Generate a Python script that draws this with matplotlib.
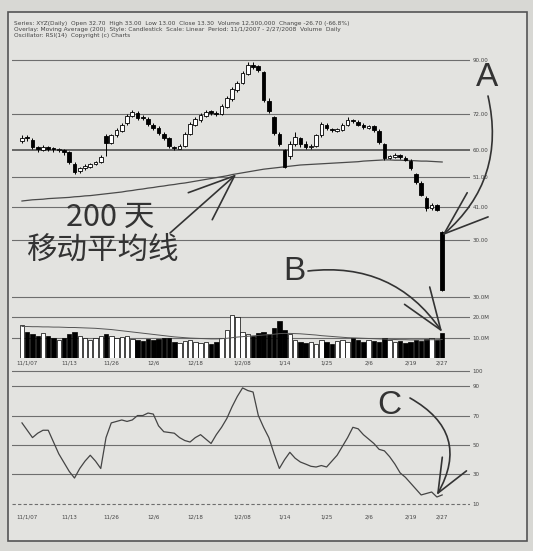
import matplotlib
matplotlib.use('Agg')
import matplotlib.pyplot as plt
from matplotlib.patches import Rectangle

plt.rcParams['font.family'] = ['DejaVu Sans']

# candlestick data (daily bars)
opens = [63.0, 64.5, 63.5, 61.0, 60.0, 61.0, 60.5, 60.0, 60.0, 59.5,
         55.5, 53.0, 54.0, 54.5, 55.3, 56.0, 64.7, 62.5, 65.0, 66.5,
         69.0, 71.5, 72.5, 71.0, 70.5, 68.5, 67.5, 65.5, 64.0, 61.0,
         60.5, 61.5, 65.5, 68.5, 70.0, 71.5, 73.0, 72.5, 72.0, 74.5,
         77.0, 80.0, 82.5, 85.5, 88.5, 88.0, 86.0, 76.5, 71.0, 65.5,
         60.0, 58.0, 62.0, 64.0, 62.0, 61.0, 61.5, 65.0, 68.5, 67.0,
         66.5, 66.7, 68.5, 70.0, 69.5, 68.5, 67.5, 68.0, 66.5, 62.0,
         57.5, 57.7, 58.3, 57.5, 56.5, 52.0, 49.0, 44.0, 40.5, 41.5,
         32.7]
closes = [64.0, 64.0, 61.0, 60.3, 61.0, 60.3, 60.3, 60.0, 59.3, 56.0,
          52.7, 54.0, 54.7, 55.3, 56.0, 57.7, 62.3, 65.0, 66.7, 68.3,
          71.3, 72.7, 70.7, 70.7, 68.7, 67.3, 65.7, 64.0, 61.3, 60.7,
          61.3, 65.3, 68.7, 70.3, 71.7, 72.7, 72.3, 72.0, 74.7, 77.3,
          80.3, 82.3, 85.7, 88.3, 87.7, 86.7, 76.7, 73.0, 65.7, 62.0,
          54.5, 62.0, 64.5, 62.0, 61.0, 61.5, 65.0, 68.7, 67.3, 66.7,
          66.7, 68.3, 70.0, 69.7, 68.3, 67.7, 67.7, 66.7, 62.7, 57.3,
          57.7, 58.3, 57.7, 56.7, 54.0, 49.3, 45.0, 40.7, 41.5, 40.0,
          13.3]
highs = [65.0, 65.0, 64.0, 61.5, 61.8, 61.5, 61.0, 60.8, 60.5, 59.8,
         56.0, 54.5, 55.2, 55.8, 56.5, 58.2, 65.2, 65.5, 67.2, 69.0,
         72.0, 73.5, 73.0, 71.8, 71.0, 69.0, 68.0, 66.0, 64.5, 61.5,
         62.0, 66.0, 69.2, 71.0, 72.5, 73.3, 73.5, 73.0, 75.3, 78.0,
         81.0, 83.0, 86.5, 89.5, 89.3, 88.5, 86.5, 77.5, 71.5, 66.0,
         60.5, 63.0, 66.0, 64.5, 63.0, 62.0, 65.5, 69.5, 69.0, 67.5,
         67.3, 69.0, 71.0, 70.5, 70.0, 69.0, 68.3, 68.5, 67.0, 62.5,
         58.5, 59.0, 58.8, 58.0, 57.0, 52.5, 49.5, 44.5, 42.3, 42.0,
         33.0]
lows = [62.5, 63.0, 60.5, 59.5, 59.8, 59.8, 59.5, 59.3, 58.5, 55.5,
        52.0, 52.5, 53.5, 54.0, 55.0, 55.8, 58.0, 62.0, 64.5, 66.0,
        68.5, 71.0, 70.0, 70.0, 68.0, 66.8, 65.0, 63.5, 60.8, 60.0,
        60.2, 61.0, 65.0, 68.0, 69.5, 71.0, 71.8, 71.2, 71.8, 74.0,
        76.5, 79.5, 82.0, 85.0, 87.0, 86.0, 76.0, 72.5, 65.0, 61.5,
        54.0, 57.0, 61.5, 61.0, 60.3, 60.5, 61.0, 64.5, 66.8, 66.0,
        66.0, 66.3, 68.0, 69.0, 68.0, 67.0, 67.0, 66.0, 62.0, 56.8,
        57.0, 57.3, 57.0, 56.2, 53.5, 48.8, 44.5, 39.5, 40.0, 39.5,
        13.0]

# 200 day moving average
ma200 = [43.0, 43.2, 43.4, 43.5, 43.6, 43.8, 43.9, 44.0, 44.1, 44.2,
         44.4, 44.5, 44.7, 44.8, 45.0, 45.2, 45.4, 45.6, 45.8, 46.0,
         46.3, 46.5, 46.8, 47.0, 47.3, 47.5, 47.8, 48.0, 48.3, 48.5,
         48.8, 49.0, 49.3, 49.6, 49.9, 50.2, 50.5, 50.8, 51.1, 51.4,
         51.8, 52.1, 52.4, 52.7, 53.0, 53.3, 53.6, 53.8, 54.0, 54.2,
         54.4, 54.6, 54.8, 55.0, 55.1, 55.2, 55.3, 55.4, 55.5, 55.6,
         55.7, 55.8, 55.9, 56.0, 56.1, 56.3, 56.4, 56.5, 56.6, 56.7,
         56.7, 56.6, 56.6, 56.5, 56.5, 56.4, 56.3, 56.3, 56.2, 56.1,
         56.0]

# volume (millions) and its moving average
volume = [16, 13, 12, 11, 12.5, 11, 10, 9, 10, 12,
          13, 11, 10, 9, 10, 11, 12, 11, 10, 10.5,
          11, 9.5, 9, 8.5, 9.5, 9, 9.5, 10, 10, 8,
          7.5, 8.5, 9, 8, 7.5, 8, 7, 8, 10, 14,
          21, 20, 13, 12, 11, 12.5, 13, 12, 15, 18,
          14, 12, 9, 8, 7.5, 8, 7, 9, 8, 7,
          8.5, 9, 8, 10, 9, 8, 9, 8.5, 8, 10,
          9, 8, 8.5, 7.5, 8, 9, 8.5, 9.5, 10, 9,
          12.5]
vol_ma = [15.5, 15.5, 15.4, 15.4, 15.3, 15.3, 15.2, 15.2, 15.1, 15.0,
          15.0, 14.9, 14.8, 14.7, 14.6, 14.4, 14.2, 14.0, 13.7, 13.4,
          13.1, 12.8, 12.5, 12.2, 11.9, 11.6, 11.3, 11.0, 10.7, 10.4,
          10.2, 10.0, 9.8, 9.7, 9.6, 9.5, 9.4, 9.4, 9.5, 9.7,
          10.0, 10.3, 10.5, 10.7, 10.9, 11.1, 11.3, 11.5, 11.7, 12.0,
          12.1, 12.1, 12.0, 11.9, 11.7, 11.5, 11.3, 11.0, 10.8, 10.6,
          10.4, 10.2, 10.0, 9.9, 9.8, 9.7, 9.6, 9.5, 9.4, 9.3,
          9.2, 9.1, 9.0, 9.0, 8.9, 8.9, 8.9, 8.9, 9.0, 9.0,
          9.1]

# oscillator
osc = [65, 60, 55, 58, 60, 60, 52, 44, 38, 32,
       27.5, 34, 39, 43, 39, 34, 55, 65, 66, 67,
       66, 67, 70, 70, 71.7, 71, 63, 59, 58.5, 58,
       55, 53, 52, 55, 57, 54, 51, 57, 62, 68,
       76, 83, 88.8, 87, 86, 70, 62, 55, 44, 34,
       40, 45, 41, 38.4, 37, 35.5, 35, 36, 35, 39,
       43, 49, 55, 62, 61, 57, 54, 51, 47, 46,
       42, 37, 31, 28, 24, 20, 16, 17, 18, 14.6,
       16]

date_idx = [1, 9, 17, 25, 33, 42, 50, 58, 66, 74, 80]
date_labels = ['11/1/07', '11/13', '11/26', '12/6', '12/18', '1/2/08',
               '1/14', '1/25', '2/6', '2/19', '2/27']

price_ticks = [30, 41, 51, 60, 72, 90]
price_labels = ['30.00', '41.00', '51.00', '60.00', '72.00', '90.00']
vol_ticks = [10, 20, 30]
vol_labels = ['10.0M', '20.0M', '30.0M']
osc_ticks = [10, 30, 50, 70, 90, 100]

W, H = 533, 551
ink = '#333333'
grid_c = '#6e6e6e'

fig = plt.figure(figsize=(W / 100, H / 100), dpi=100)
fig.patch.set_facecolor('#d8d8d4')
frame = Rectangle((8 / W, 1 - 541 / H), 519 / W, 529 / H,
                  transform=fig.transFigure, facecolor='#e3e3e0',
                  edgecolor='#555555', lw=1.2, zorder=-5)
fig.add_artist(frame)


def px_axes(x0, y0, x1, y1):
    a = fig.add_axes([x0 / W, 1 - y1 / H, (x1 - x0) / W, (y1 - y0) / H])
    a.set_facecolor('none')
    for s in a.spines.values():
        s.set_visible(False)
    a.set_xlim(-1.9, 85.3)
    a.yaxis.tick_right()
    a.tick_params(length=0, labelsize=4, colors='#444444', pad=2)
    return a


ax_p = px_axes(12, 55, 470, 296)
ax_v = px_axes(12, 296, 470, 358)
ax_o = px_axes(12, 366, 470, 512)

n = len(closes)
xs = list(range(n))

# price panel
ax_p.set_ylim(11.33, 91.67)
ax_p.set_yticks(price_ticks)
ax_p.set_yticklabels(price_labels)
ax_p.set_xticks([])
for t in price_ticks:
    ax_p.axhline(t, color='#444444' if t == 60 else grid_c,
                 lw=1.1 if t == 60 else 0.8, zorder=0)

up = [c >= o for o, c in zip(opens, closes)]
bottoms = [min(o, c) for o, c in zip(opens, closes)]
heights = [max(abs(c - o), 0.4) for o, c in zip(opens, closes)]
ax_p.vlines(xs, lows, highs, color='black', lw=0.7, zorder=2)
ax_p.bar(xs, heights, bottom=bottoms, width=0.7,
         color=['white' if u else 'black' for u in up],
         edgecolor='black', lw=0.6, zorder=3)
ax_p.plot(xs, ma200, color='#4a4a4a', lw=0.9, zorder=1)

# volume panel
ax_v.set_ylim(0, 30.5)
ax_v.set_yticks(vol_ticks)
ax_v.set_yticklabels(vol_labels)
for t in vol_ticks:
    ax_v.axhline(t, color=grid_c, lw=0.8, zorder=0)
ax_v.bar(xs, volume, width=0.85,
         color=['white' if u else 'black' for u in up],
         edgecolor='black', lw=0.5, zorder=2)
ax_v.plot(xs, vol_ma, color='#555555', lw=0.7, zorder=3)
ax_v.set_xticks(date_idx)
ax_v.set_xticklabels(date_labels)

# oscillator panel
ax_o.set_ylim(4.4, 103.7)
ax_o.set_yticks(osc_ticks)
ax_o.set_yticklabels([str(t) for t in osc_ticks])
for t in osc_ticks:
    ax_o.axhline(t, color=grid_c, lw=0.8, zorder=0,
                 ls=(0, (3, 2)) if t == 10 else '-')
ax_o.plot(xs, osc, color='#444444', lw=0.9)
ax_o.set_xticks(date_idx)
ax_o.set_xticklabels(date_labels)

# header
header = [
    'Series: XYZ(Daily)  Open 32.70  High 33.00  Low 13.00  Close 13.30  '
    'Volume 12,500,000  Change -26.70 (-66.8%)',
    'Overlay: Moving Average (200)  Style: Candlestick  Scale: Linear  '
    'Period: 11/1/2007 - 2/27/2008  Volume  Daily',
    'Oscillator: RSI(14)  Copyright (c) Charts',
]
for k, line in enumerate(header):
    fig.text(14 / W, 1 - (24 + 5.5 * k) / H, line, fontsize=4.2,
             color='#444444', va='center')

# annotations
cjk = ['Noto Sans CJK SC', 'DejaVu Sans']
fig.text(110 / W, 1 - 217 / H, '200 天', fontsize=22, color=ink,
         ha='center', va='center', family=cjk)
fig.text(103 / W, 1 - 250 / H, '移动平均线', fontsize=22, color=ink,
         ha='center', va='center', family=cjk)
for letter, lx, ly in [('A', 487, 78), ('B', 294, 272), ('C', 389, 406)]:
    fig.text(lx / W, 1 - ly / H, letter, fontsize=24, color=ink,
             ha='center', va='center', family=['Liberation Sans'])


def arrow(ax, tip, tail, rad, hl, hw):
    ax.annotate('', xy=tip, xycoords='data',
                xytext=(tail[0], H - tail[1]), textcoords='figure pixels',
                arrowprops=dict(arrowstyle='->,head_length=%s,head_width=%s' % (hl, hw),
                                connectionstyle='arc3,rad=%s' % rad,
                                color='#333333', lw=1.2, mutation_scale=10,
                                shrinkA=0, shrinkB=0),
                annotation_clip=False)


arrow(ax_p, (40.8, 51.9), (170, 233), 0, 3.3, 1.3)
arrow(ax_p, (80, 31.5), (488, 96), -0.3, 3.2, 1.15)
arrow(ax_v, (80, 12.8), (308, 271), -0.3, 3.0, 1.1)
arrow(ax_o, (79, 16), (410, 398), -0.5, 2.4, 1.0)

fig.savefig('out.png', dpi=100, facecolor=fig.get_facecolor())
